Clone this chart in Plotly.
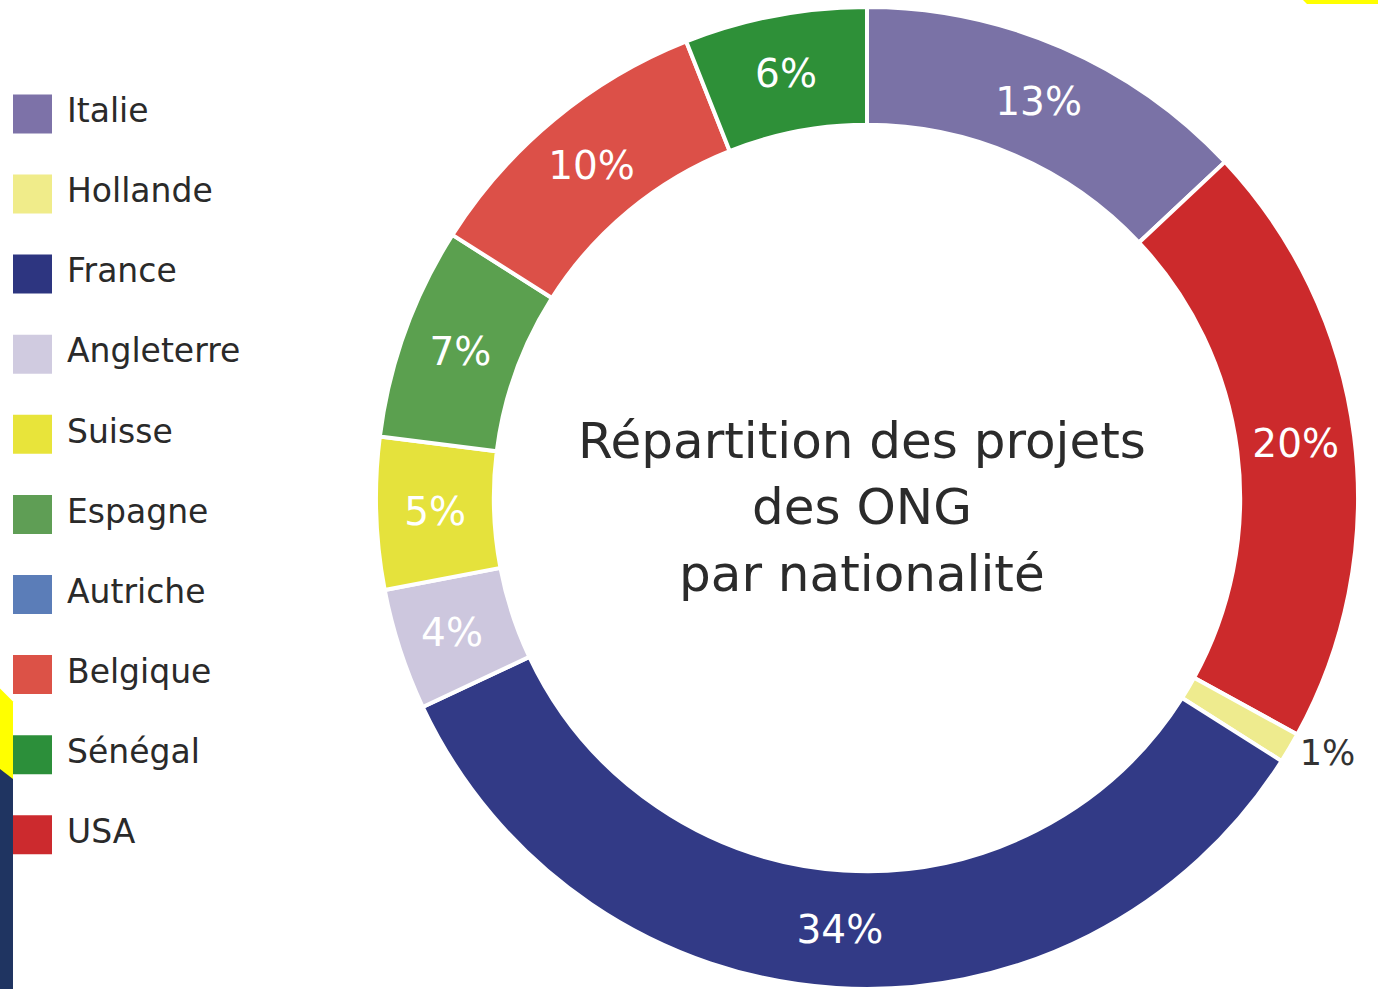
import plotly.graph_objects as go

# ---- data ----
slice_labels = ['Italie', 'USA', 'Hollande', 'France', 'Angleterre', 'Suisse',
                'Espagne', 'Belgique', 'Sénégal']
slice_values = [13, 20, 1, 34, 4, 5, 7, 10, 6]
slice_colors = ['#7a72a6', '#cc2a2c', '#eeeb8e', '#323a86', '#cdc7de', '#e5e23c',
                '#5ba04f', '#dc5048', '#2e9038']
slice_textpos = ['inside', 'inside', 'outside', 'inside', 'inside', 'inside',
                 'inside', 'inside', 'inside']

legend_labels = ['Italie', 'Hollande', 'France', 'Angleterre', 'Suisse',
                 'Espagne', 'Autriche', 'Belgique', 'Sénégal', 'USA']
legend_colors = ['#7d72a8', '#f0ec8a', '#2d3580', '#d0cbe0', '#e8e43a',
                 '#5f9e55', '#5b7db8', '#dc5247', '#2c8f3a', '#cc2a2e']

title_lines = ['Répartition des projets', 'des ONG', 'par nationalité']

W, H = 1378, 994
FONT = 'DejaVu Sans'

fig = go.Figure()

fig.add_trace(go.Pie(
    labels=slice_labels, values=slice_values,
    sort=False, direction='clockwise', rotation=0,
    hole=0.76,
    marker=dict(colors=slice_colors, line=dict(color='white', width=4)),
    texttemplate='%{value}%',
    textposition=slice_textpos,
    insidetextorientation='horizontal',
    insidetextfont=dict(color='white', size=39, family=FONT),
    outsidetextfont=dict(color='#333333', size=35, family=FONT),
    domain=dict(x=[371 / W, 1363 / W], y=[0, 987 / H]),
    showlegend=False, hoverinfo='label+percent',
))

# legend drawn as a scatter on its own axes (pixel-like units)
idx = list(range(len(legend_labels)))
fig.add_trace(go.Scatter(
    x=[32.5] * len(idx), y=idx, mode='markers',
    marker=dict(symbol='square', size=39, color=legend_colors, line=dict(width=0)),
    showlegend=False, hoverinfo='skip', xaxis='x', yaxis='y',
))
fig.add_trace(go.Scatter(
    x=[67] * len(idx), y=idx, mode='text', text=legend_labels,
    textposition='middle right',
    textfont=dict(size=33, color='#2a2a2a', family=FONT),
    showlegend=False, hoverinfo='skip', xaxis='x', yaxis='y',
))

# centre title
title_y = [443, 510, 577]
for t, yy in zip(title_lines, title_y):
    fig.add_annotation(text=t, x=862 / W, y=1 - yy / H, xref='paper', yref='paper',
                       showarrow=False, xanchor='center', yanchor='middle',
                       font=dict(size=50, color='#2b2b2b', family=FONT))

def px(x, y):
    return f'{x / W:.5f},{1 - y / H:.5f}'

# cropping artefacts seen at the edges of the reference
shapes = [
    dict(type='path', xref='paper', yref='paper', line=dict(width=0), fillcolor='#ffff00',
         path=f'M{px(1303, 0)} L{px(1378, 0)} L{px(1378, 4)} L{px(1307, 4)} Z'),
    dict(type='path', xref='paper', yref='paper', line=dict(width=0), fillcolor='#ffff00',
         path=f'M{px(0, 692)} L{px(13, 705)} L{px(13, 785)} L{px(0, 775)} Z'),
    dict(type='path', xref='paper', yref='paper', line=dict(width=0), fillcolor='#1f3461',
         path=f'M{px(0, 773)} L{px(13, 783)} L{px(13, 994)} L{px(0, 994)} Z'),
]

step = 80.5
top = -114.5 / step
fig.update_layout(
    width=W, height=H,
    margin=dict(l=0, r=0, t=0, b=0),
    paper_bgcolor='white', plot_bgcolor='white',
    xaxis=dict(domain=[0, 0.25], range=[0, 0.25 * W], visible=False, fixedrange=True),
    yaxis=dict(domain=[0, 1], range=[top + H / step, top], visible=False, fixedrange=True),
    shapes=shapes,
    font=dict(family=FONT),
)

fig.write_html('out.html',
               config={'displayModeBar': False},
               post_script="document.body.style.margin='0';"
                           "document.body.style.padding='0';"
                           "document.body.style.overflow='hidden';")
